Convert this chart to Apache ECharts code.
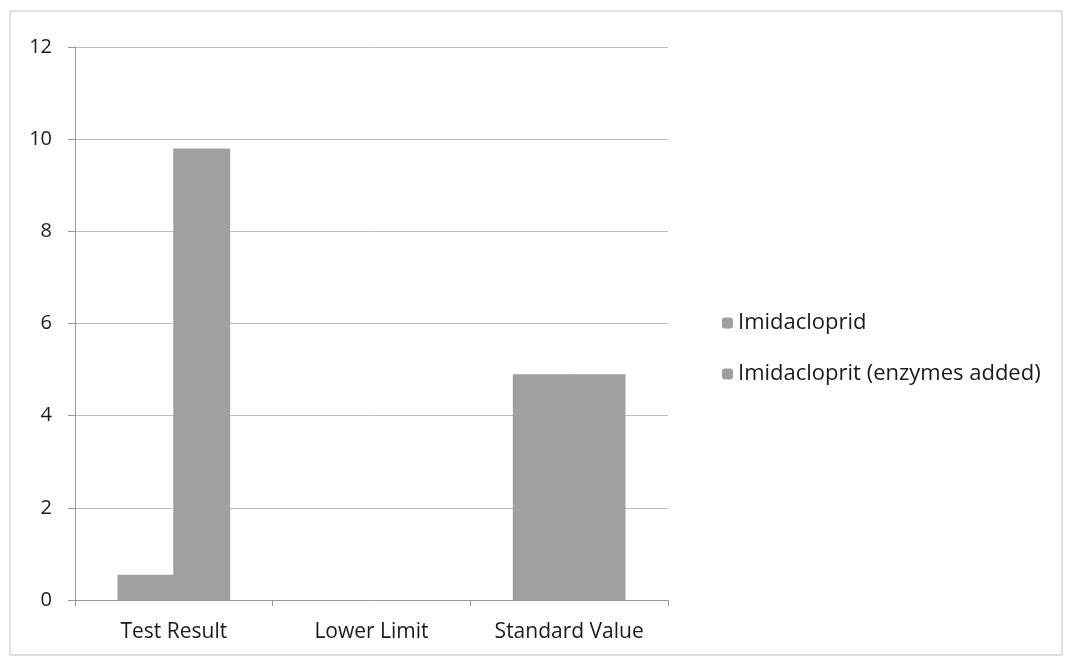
<!DOCTYPE html>
<html><head><meta charset="utf-8">
<script src="https://cdn.jsdelivr.net/npm/echarts@6/dist/echarts.min.js"></script>
<style>html,body{margin:0;padding:0;background:#fff}#c{width:1067px;height:658px}</style>
</head><body><div id="c"></div>
<script>
const categories = ['Test Result', 'Lower Limit', 'Standard Value'];
const imidacloprid = [0.55, 0, 4.9];
const imidaclopritEnzymes = [9.8, 0, 4.9];
const seriesNames = ['Imidacloprid', 'Imidacloprit (enzymes added)'];
const yTicks = { min: 0, max: 12, interval: 2 };

const chart = echarts.init(document.getElementById('c'));
const font = '"Open Sans", sans-serif';
chart.setOption({
  animation: false,
  graphic: [{ type: 'rect', shape: { x: 10, y: 11, width: 1052, height: 644 }, style: { fill: 'none', stroke: '#c4c4c4', lineWidth: 1 } }],
  grid: { left: 75, right: 399, top: 47, bottom: 58 },
  legend: {
    orient: 'vertical', left: 717, top: 307, itemWidth: 11, itemHeight: 11, itemGap: 29, itemStyle: { borderWidth: 0 },
    textStyle: { fontFamily: font, fontSize: 22, color: '#1a1a1a' },
    data: seriesNames
  },
  xAxis: {
    type: 'category', data: categories,
    axisLine: { lineStyle: { color: '#9a9a9a' } },
    axisTick: { show: true, length: 6, lineStyle: { color: '#9a9a9a' } },
    axisLabel: { fontFamily: font, fontSize: 21, color: '#1a1a1a', margin: 22 }
  },
  yAxis: {
    type: 'value', min: yTicks.min, max: yTicks.max, interval: yTicks.interval,
    axisLine: { show: true, lineStyle: { color: '#9a9a9a' } },
    axisTick: { show: true, length: 7, lineStyle: { color: '#9a9a9a' } },
    splitLine: { lineStyle: { color: '#bdbdbd' } },
    axisLabel: { fontFamily: font, fontSize: 20, color: '#1a1a1a', margin: 23 }
  },
  series: [
    { name: seriesNames[0], type: 'bar', data: imidacloprid, barGap: '-2%', barCategoryGap: '43%', itemStyle: { color: '#a0a0a0' } },
    { name: seriesNames[1], type: 'bar', data: imidaclopritEnzymes, barGap: '-2%', barCategoryGap: '43%', itemStyle: { color: '#a0a0a0' } }
  ]
});
</script></body></html>
